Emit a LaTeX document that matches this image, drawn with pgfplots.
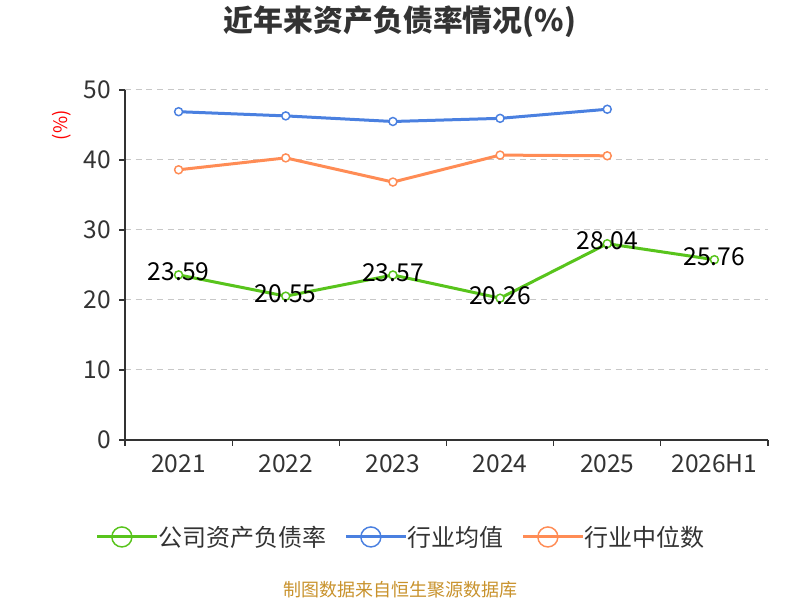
\documentclass[border=0pt]{standalone}
\usepackage{fontspec}
\setmainfont{Noto Sans CJK SC}
\usepackage{pgfplots}
\pgfplotsset{compat=1.18}
\definecolor{cgreen}{RGB}{88,196,28}
\definecolor{cblue}{RGB}{74,128,224}
\definecolor{corange}{RGB}{255,140,85}
\definecolor{ctext}{RGB}{51,51,51}
\definecolor{cgrid}{RGB}{200,200,200}
\definecolor{cfoot}{RGB}{200,146,44}
\begin{document}
\begin{tikzpicture}
\path[use as bounding box] (0,0) rectangle (600pt,450pt);
\begin{axis}[
  at={(93.75pt,120pt)}, anchor=south west,
  scale only axis, width=482.25pt, height=262.5pt,
  xmin=-0.5, xmax=5.5, ymin=0, ymax=50,
  axis lines=left,
  axis line style={-, draw=ctext, line width=0.9pt},
  clip=false,
  xtick={0,...,5},
  xticklabels={2021,2022,2023,2024,2025,2026H1},
  minor xtick={-0.5,0.5,...,5.5},
  major x tick style={draw=none},
  minor x tick style={draw=ctext, line width=0.9pt},
  ytick={0,10,...,50},
  y tick style={draw=ctext, line width=0.9pt},
  tick align=outside,
  major tick length=4.5pt, minor tick length=4.5pt,
  ymajorgrids,
  grid style={cgrid, line width=0.75pt, dash pattern=on 4.5pt off 3.5pt},
  tick label style={font=\fontsize{18.4}{21}\selectfont, text=ctext},
  xticklabel style={yshift=-3pt},
  yticklabel style={xshift=-2.5pt},
  /pgf/number format/assume math mode=true,
  legend style={at={(axis description cs:0.4277,-0.277)}, anchor=center,
    draw=none, fill=none, legend columns=3,
    font=\fontsize{18}{21}\selectfont, text=ctext,
    /tikz/every even column/.append style={column sep=14pt},
    nodes={inner sep=0pt}},
  legend image code/.code={
    \draw[#1, mark=none, line width=1.1pt] (0pt,0pt) -- (36.75pt,0pt);
    \draw[#1, mark=none, line width=1.1pt, fill=white] (18.4pt,0pt) circle (7.5pt);
    \path (0pt,0pt) -- (44.5pt,0pt);
  },
]
\addplot[cgreen, line width=2.25pt, mark=*, mark size=3pt,
  mark options={fill=white, draw=cgreen, line width=1.1pt},
  nodes near coords,
  point meta=y,
  every node near coord/.append style={anchor=center, yshift=2pt,
    font=\fontsize{18.5}{21}\selectfont, text=black,
    /pgf/number format/fixed, /pgf/number format/precision=2,
    /pgf/number format/fixed zerofill}]
  coordinates {(0,23.59) (1,20.55) (2,23.57) (3,20.26) (4,28.04) (5,25.76)};
\addlegendentry{公司资产负债率}
\addplot[cblue, line width=2.25pt, mark=*, mark size=3pt,
  mark options={fill=white, draw=cblue, line width=1.1pt}]
  coordinates {(0,46.9) (1,46.3) (2,45.5) (3,45.95) (4,47.25)};
\addlegendentry{行业均值}
\addplot[corange, line width=2.25pt, mark=*, mark size=3pt,
  mark options={fill=white, draw=corange, line width=1.1pt}]
  coordinates {(0,38.6) (1,40.3) (2,36.85) (3,40.7) (4,40.6)};
\addlegendentry{行业中位数}
\end{axis}
\node[font=\bfseries\fontsize{22.4}{26}\selectfont, text=ctext] at (300pt,433.5pt) {近年来资产负债率情况(\%)};
\node[rotate=90, text=red, font=\fontsize{14}{16}\selectfont] at (46.5pt,356pt) {(\%)};
\node[text=cfoot, font=\fontsize{13.5}{16}\selectfont] at (300pt,7.5pt) {制图数据来自恒生聚源数据库};
\end{tikzpicture}
\end{document}
